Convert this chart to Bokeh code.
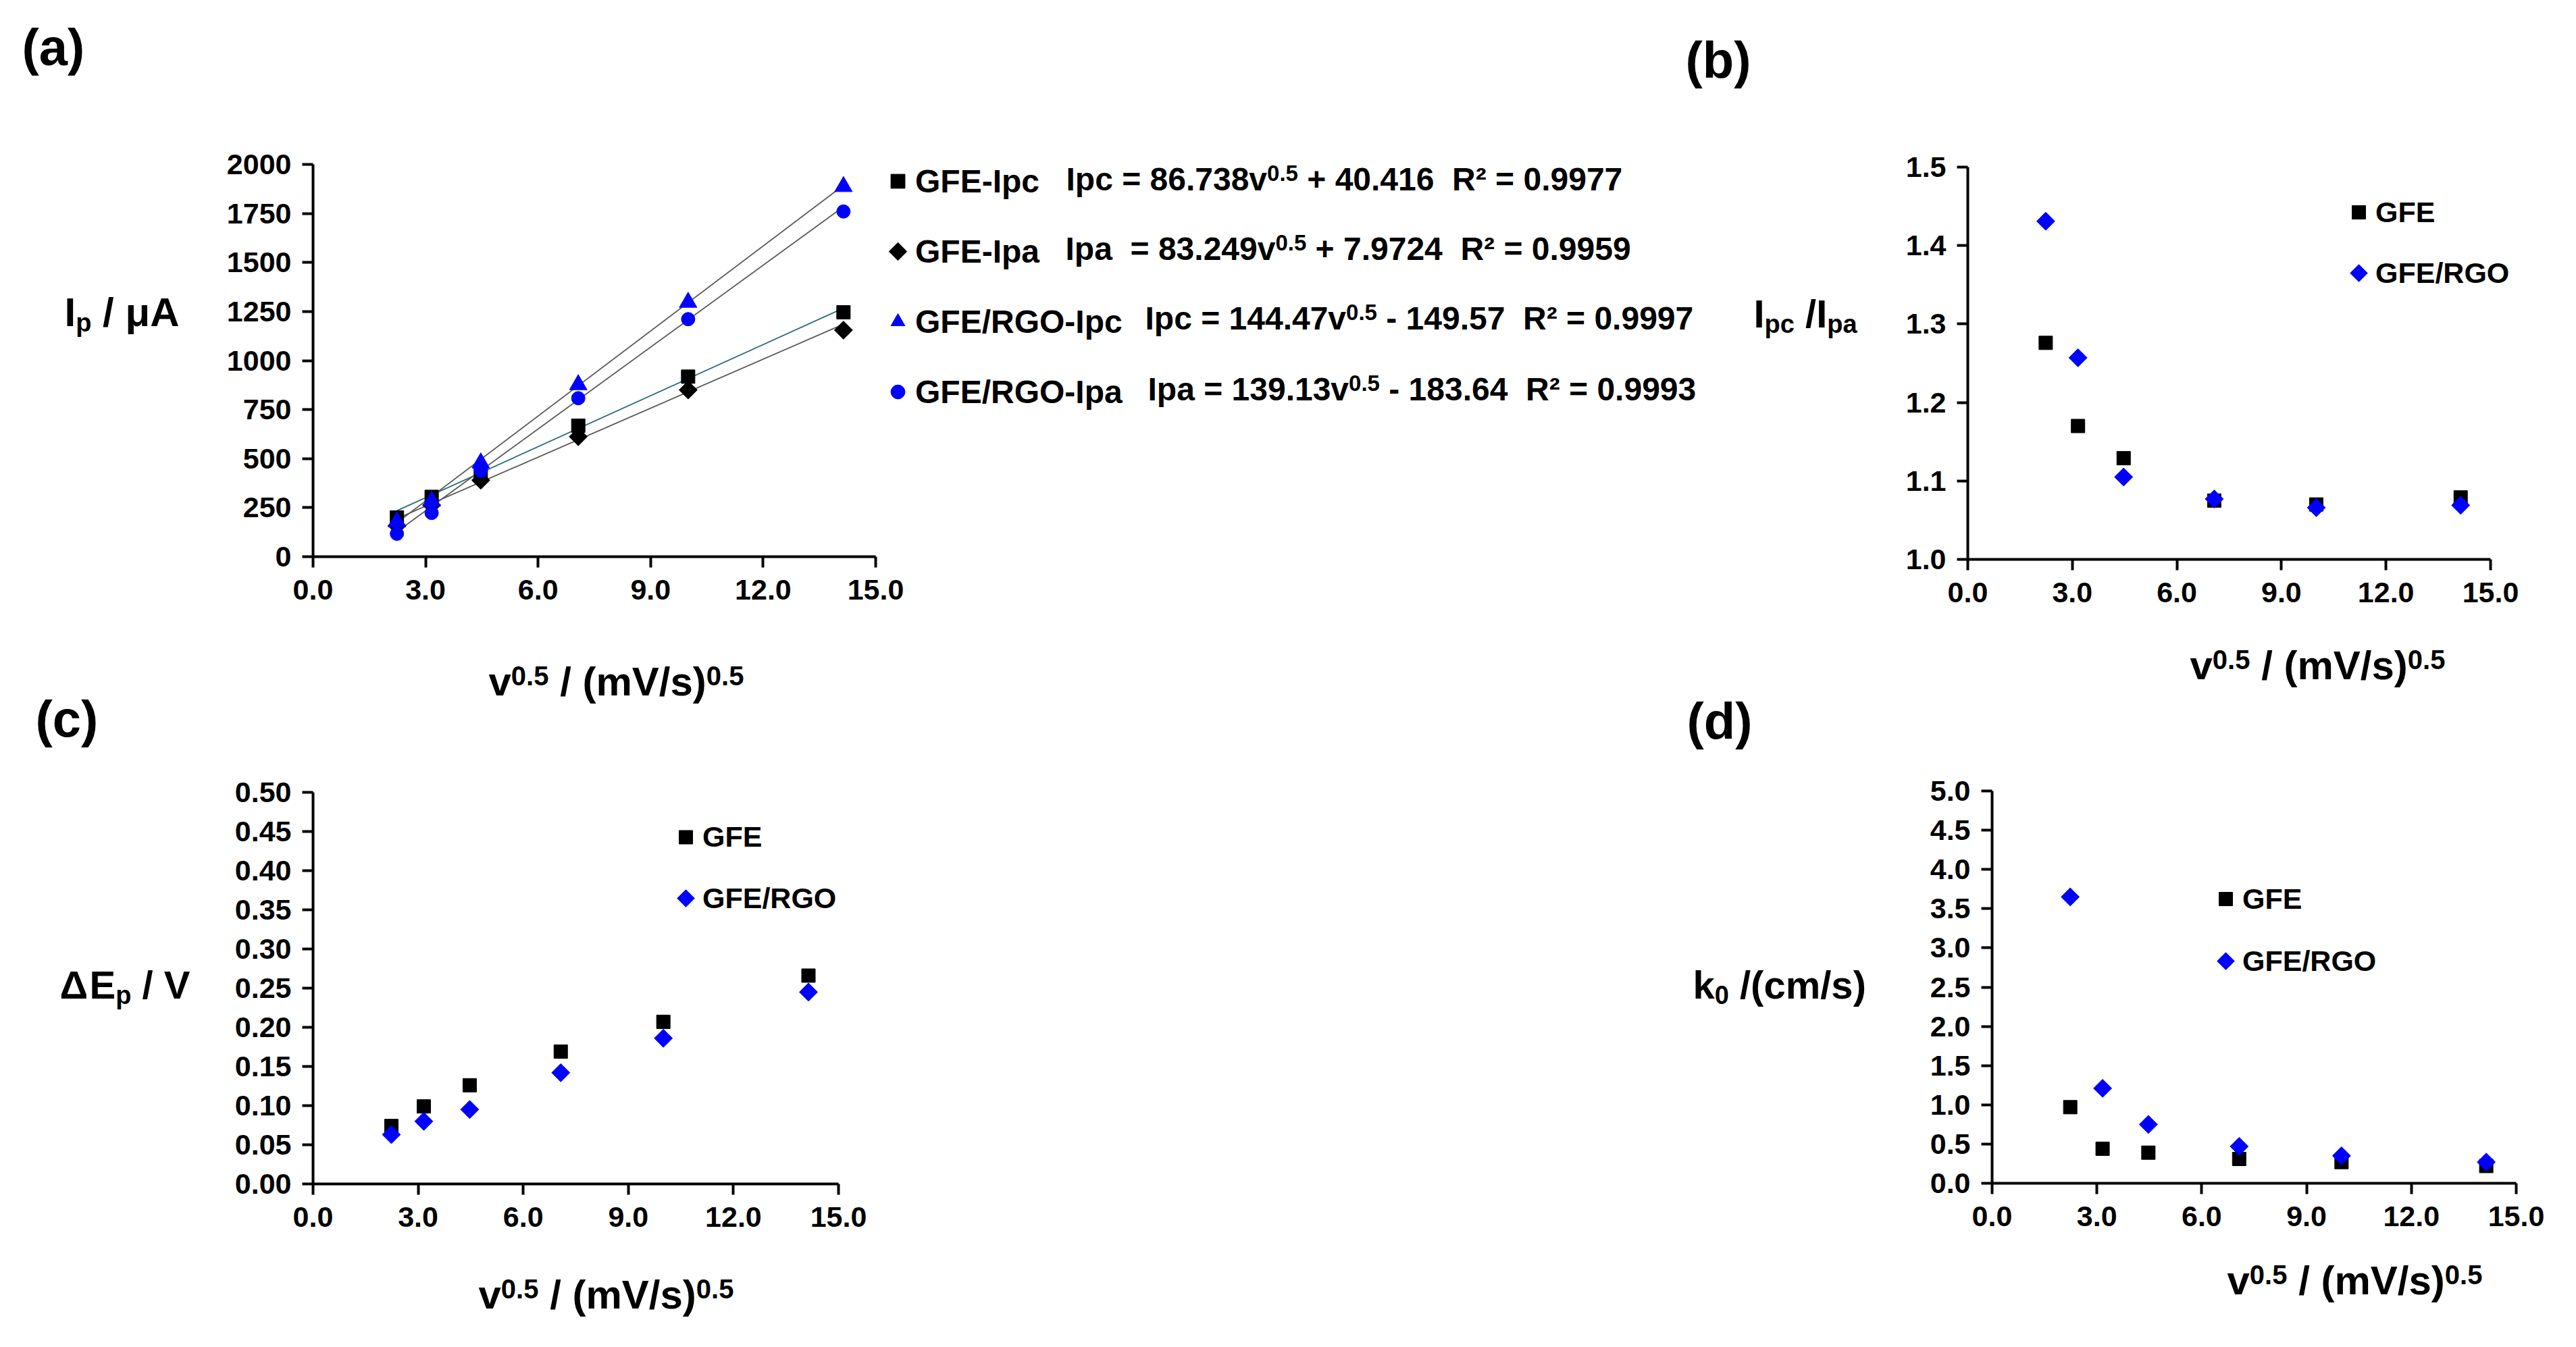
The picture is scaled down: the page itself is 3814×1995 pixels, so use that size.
import re
import numpy as np
from bokeh.plotting import figure
from bokeh.models import Range1d, FixedTicker, PrintfTickFormatter, Label, Legend, LegendItem
from bokeh.layouts import row, column
from bokeh.embed import file_html
from bokeh.resources import INLINE

# ---------------- data ----------------
v_sqrt = [2.236, 3.162, 4.472, 7.071, 10.0, 14.142]      # v^0.5 / (mV/s)^0.5
x_ticks = [0, 3, 6, 9, 12, 15]

# (a) peak currents, uA
gfe_ipc = [200, 305, 430, 668, 918, 1246]
gfe_ipa = [158, 263, 390, 612, 850, 1155]
rgo_ipc = [178, 283, 478, 877, 1297, 1887]
rgo_ipa = [117, 223, 438, 808, 1211, 1760]
a_names = ["GFE-Ipc", "GFE-Ipa", "GFE/RGO-Ipc", "GFE/RGO-Ipa"]
a_lhs = ["Ipc", "Ipa ", "Ipc", "Ipa"]
fit_slope = [86.738, 83.249, 144.47, 139.13]
fit_intercept = [40.416, 7.9724, -149.57, -183.64]
fit_r2 = [0.9977, 0.9959, 0.9997, 0.9993]
a_yticks = [0, 250, 500, 750, 1000, 1250, 1500, 1750, 2000]

# (b) Ipc/Ipa
ratio_gfe = [1.276, 1.170, 1.129, 1.075, 1.070, 1.079]
ratio_rgo = [1.431, 1.257, 1.105, 1.077, 1.066, 1.069]
b_yticks = [1.0, 1.1, 1.2, 1.3, 1.4, 1.5]

# (c) delta Ep, V
dep_gfe = [0.074, 0.099, 0.126, 0.169, 0.207, 0.266]
dep_rgo = [0.063, 0.080, 0.095, 0.142, 0.186, 0.245]
c_yticks = [0.0, 0.05, 0.10, 0.15, 0.20, 0.25, 0.30, 0.35, 0.40, 0.45, 0.50]

# (d) k0, cm/s
k0_gfe = [0.97, 0.44, 0.39, 0.31, 0.27, 0.22]
k0_rgo = [3.65, 1.21, 0.75, 0.47, 0.35, 0.27]
d_yticks = [0.0, 0.5, 1.0, 1.5, 2.0, 2.5, 3.0, 3.5, 4.0, 4.5, 5.0]

legend_names = ["GFE", "GFE/RGO"]

# ---------------- styling helpers ----------------
FONT = "Liberation Sans"
BLUE = "#0000FF"
ADV = {' ': .278, '(': .333, ')': .333, '+': .584, '-': .333, '.': .278, '/': .278, '=': .584,
       '²': .333, 'A': .722, 'E': .667, 'F': .611, 'G': .778, 'I': .278, 'O': .778, 'R': .722,
       'V': .667, 'a': .556, 'c': .556, 'k': .556, 'm': .889, 'p': .611, 's': .556, 'v': .556,
       'μ': .611, 'Δ': .760}
BASE_FIX = 0.23   # label baseline correction (fraction of font size)
BASE_ADD = 8      # plus constant px
ANG = np.pi / 4


def adv(s, size):
    return sum(ADV.get(ch, .556) for ch in s) * size


class Panel:
    """A figure whose frame fills its whole canvas; axes are pinned inside it."""

    def __init__(self, cl, ct, w, h, fx0, fx1, fy0, fy1, yr, yticks, yfmt):
        self.cl, self.cb = cl, ct + h
        self.fx0, self.fy0, self.yr0 = fx0, fy0, yr[0]
        self.sx = sx = (fx1 - fx0) / 15.0
        self.sy = sy = (fy0 - fy1) / (yr[1] - yr[0])
        xr = (0 - (fx0 - cl) / sx, 15 + (cl + w - fx1) / sx)
        yrr = (yr[0] - (ct + h - fy0) / sy, yr[1] + (fy1 - ct) / sy)
        p = figure(width=w, height=h, output_backend="svg", toolbar_location=None,
                   x_range=Range1d(*xr), y_range=Range1d(*yrr), min_border=0)
        p.min_border_left = p.min_border_right = p.min_border_top = p.min_border_bottom = 0
        p.title.visible = False
        p.outline_line_color = None
        p.xgrid.visible = False
        p.ygrid.visible = False
        p.background_fill_color = "white"
        p.border_fill_color = "white"
        xa, ya = p.xaxis[0], p.yaxis[0]
        xa.fixed_location = yr[0]
        ya.fixed_location = 0
        xa.bounds = (0, 15)
        ya.bounds = yr
        for ax, ticks, fmt in ((xa, x_ticks, "%.1f"), (ya, yticks, yfmt)):
            ax.ticker = FixedTicker(ticks=ticks, minor_ticks=[])
            ax.formatter = PrintfTickFormatter(format=fmt)
            ax.axis_line_width = 4
            ax.axis_line_color = "black"
            ax.major_tick_line_width = 4
            ax.major_tick_line_color = "black"
            ax.major_tick_in = 0
            ax.major_tick_out = 16
            ax.minor_tick_line_color = None
            ax.major_label_text_font = FONT
            ax.major_label_text_font_style = "bold"
            ax.major_label_text_font_size = "43px"
            ax.major_label_text_color = "black"
        ya.major_label_standoff = 16
        xa.major_label_standoff = 18
        self.p = p

    def data_xy(self, px, py):
        return (px - self.fx0) / self.sx, self.yr0 + (self.fy0 - py) / self.sy

    def _label(self, x, y, text, size):
        self.p.add_layout(Label(x=x - self.cl, y=self.cb - y + BASE_FIX * size + BASE_ADD,
                                x_units="screen", y_units="screen", text=text,
                                text_font=FONT, text_font_style="bold",
                                text_font_size=f"{size}px", text_color="black",
                                text_align="left", text_baseline="alphabetic"))

    def runs(self, x, y, pieces):
        """pieces: (text, font px, raise px); x, y = page coords of baseline start"""
        for text, size, dy in pieces:
            for seg in re.split(r"(^ +| {2,}| +$)", text):
                if not seg:
                    continue
                if seg.strip():
                    self._label(x, y - dy, seg, size)
                x += adv(seg, size)

    def legend(self, names, rends, diamond, left, bottom, gw, gh, fsize):
        items = []
        for k, (name, r) in enumerate(zip(names, rends)):
            if diamond[k]:
                col = r.glyph.fill_color
                proxy = self.p.scatter([], [], marker="square", size=1, fill_alpha=0, line_alpha=0)
                cy = bottom - (len(names) - k - 0.5) * gh
                kx, ky = self.data_xy(left + gw / 2, cy)
                self.p.scatter([kx], [ky], marker="square", angle=ANG,
                               size=0.4 * min(gw, gh) * 0.9, color=col)
                items.append(LegendItem(label=name, renderers=[proxy]))
            else:
                items.append(LegendItem(label=name, renderers=[r]))
        lg = Legend(items=items, location=(left - self.cl, self.cb - bottom),
                    orientation="vertical", glyph_width=gw, glyph_height=gh,
                    spacing=0, padding=0, margin=0, label_standoff=0,
                    label_text_font=FONT, label_text_font_style="bold",
                    label_text_font_size=f"{fsize}px", label_text_color="black",
                    border_line_color=None, background_fill_alpha=0)
        self.p.add_layout(lg)


XT = [("v", 60, 0), ("0.5", 40, 13), (" / (mV/s)", 60, 0), ("0.5", 40, 13)]
DIAMOND = dict(marker="square", angle=ANG, size=19)

# ---------------- (a) ----------------
A = Panel(0, 0, 2596, 1120, 463, 1296, 824, 243, (0, 2000), a_yticks, "%d")
pa = A.p
xs_fit = np.array([min(v_sqrt), max(v_sqrt)])
line_cols = ["#2E6E78", "#5A5A5A", "#5A5A5A", "#5A5A5A"]
for k in range(4):
    pa.line(xs_fit, fit_slope[k] * xs_fit + fit_intercept[k], line_color=line_cols[k], line_width=1.8)
r1 = pa.scatter(v_sqrt, gfe_ipc, marker="square", size=20, color="black")
r2 = pa.scatter(v_sqrt, gfe_ipa, color="black", **DIAMOND)
r3 = pa.scatter(v_sqrt, rgo_ipc, marker="triangle", size=26, color=BLUE)
r4 = pa.scatter(v_sqrt, rgo_ipa, marker="circle", size=20, color=BLUE)
A.legend(a_names, [r1, r2, r3, r4], [False, True, False, False], 1303, 632, 52, 104, 48)
eq_x = [1578, 1577, 1695, 1699]
eq_y = [284, 387, 490, 595]
for k in range(4):
    sign = "+" if fit_intercept[k] >= 0 else "-"
    A.runs(eq_x[k], eq_y[k],
           [(f"{a_lhs[k]} = {fit_slope[k]}v", 48, 0), ("0.5", 33, 12),
            (f" {sign} {abs(fit_intercept[k])}  R² = {fit_r2[k]}", 48, 0)])
A.runs(95, 484, [("I", 60, 0), ("p", 38, -10), (" / μA", 60, 0)])
A.runs(723, 1031, XT)
for txt, x, y in (("(a)", 32, 94), ("(b)", 2495, 113), ("(c)", 52, 1089), ("(d)", 2497, 1092)):
    A.runs(x, y, [(txt, 76, 0)])

# ---------------- (b) ----------------
B = Panel(2596, 0, 1214, 1120, 2913, 3687, 828, 247, (1.0, 1.5), b_yticks, "%.1f")
b1 = B.p.scatter(v_sqrt, ratio_gfe, marker="square", size=20, color="black")
b2 = B.p.scatter(v_sqrt, ratio_rgo, color=BLUE, **DIAMOND)
B.legend(legend_names, [b1, b2], [False, True], 3467, 449, 50, 90, 43)
B.runs(2596, 485, [("I", 58, 0), ("pc", 38, -11), (" /I", 58, 0), ("pa", 38, -11)])
B.runs(3242, 1007, XT)

# ---------------- (c) ----------------
C = Panel(0, 1120, 2400, 870, 463, 1241, 1753, 1173, (0, 0.5), c_yticks, "%.2f")
c1 = C.p.scatter(v_sqrt, dep_gfe, marker="square", size=20, color="black")
c2 = C.p.scatter(v_sqrt, dep_rgo, color=BLUE, **DIAMOND)
C.legend(legend_names, [c1, c2], [False, True], 990, 1375.5, 50, 91, 43)
C.runs(88, 1479, [("Δ", 58, 0), ("E", 58, 0), ("p", 38, -11), (" / V", 58, 0)])
C.runs(708, 1939, XT)

# ---------------- (d) ----------------
D = Panel(2400, 1120, 1410, 870, 2949, 3725, 1752, 1171, (0, 5.0), d_yticks, "%.1f")
d1 = D.p.scatter(v_sqrt, k0_gfe, marker="square", size=20, color="black")
d2 = D.p.scatter(v_sqrt, k0_rgo, color=BLUE, **DIAMOND)
D.legend(legend_names, [d1, d2], [False, True], 3270, 1469, 50, 92, 43)
D.runs(2506, 1479, [("k", 58, 0), ("0", 38, -11), (" /(cm/s)", 58, 0)])
D.runs(3297, 1918, XT)

layout = column(row(A.p, B.p), row(C.p, D.p))
open("out.html", "w").write(file_html(layout, INLINE))
